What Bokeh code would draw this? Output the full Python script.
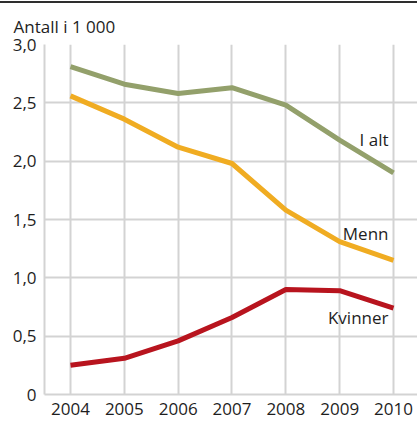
from bokeh.plotting import figure
from bokeh.models import Range1d, FixedTicker, ColumnDataSource, Div
from bokeh.layouts import column
from bokeh.core.properties import value
from bokeh.embed import file_html
from bokeh.resources import INLINE

years = [2004, 2005, 2006, 2007, 2008, 2009, 2010]
i_alt = [2.81, 2.66, 2.58, 2.63, 2.48, 2.18, 1.90]
menn = [2.56, 2.36, 2.12, 1.98, 1.58, 1.31, 1.15]
kvinner = [0.25, 0.31, 0.46, 0.66, 0.90, 0.89, 0.74]

series_names = ["I alt", "Menn", "Kvinner"]
series_colors = ["#93a06b", "#f0ac22", "#b8141e"]
label_offsets = [-33, -27, 9]

y_ticks = [0, 0.5, 1.0, 1.5, 2.0, 2.5, 3.0]
y_tick_labels = ["0", "0,5", "1,0", "1,5", "2,0", "2,5", "3,0"]
x_tick_labels = [str(y) for y in years]
title_text = "Antall i 1 000"

FONT = "Open Sans"
TXT = "#1e1e1e"
GRID = "#d3d3d3"
FS = "17px"

# thin dark rule across the top
bar = Div(width=417, height=2, margin=(1, 0, 0, 0),
          styles={"background-color": "#2e2e2e"})

x0, x1 = 2003.517, 2010.446
p = figure(width=417, height=419, output_backend="svg", toolbar_location=None,
           x_range=Range1d(x0, x1), y_range=Range1d(0, 3.0))
p.min_border_left = 44
p.min_border_right = 0
p.min_border_bottom = 28
p.min_border_top = 41
p.outline_line_color = None
p.background_fill_color = "white"
p.border_fill_color = "white"

p.title.text = title_text
p.title.align = "left"
p.title.offset = -31
p.title.text_font = FONT
p.title.text_font_size = FS
p.title.text_font_style = "normal"
p.title.text_color = TXT
p.title.standoff = 13

p.xaxis.ticker = FixedTicker(ticks=years)
p.xaxis.major_label_overrides = {y: l for y, l in zip(years, x_tick_labels)}
p.yaxis.ticker = FixedTicker(ticks=y_ticks)
p.yaxis.major_label_overrides = {t: l for t, l in zip(y_ticks, y_tick_labels)}
for ax in (p.xaxis, p.yaxis):
    ax.axis_line_color = GRID
    ax.axis_line_width = 2
    ax.major_tick_line_color = None
    ax.minor_tick_line_color = None
    ax.major_tick_out = 0
    ax.major_tick_in = 0
    ax.major_label_text_font = FONT
    ax.major_label_text_font_size = FS
    ax.major_label_text_color = TXT
p.xaxis.major_label_standoff = 8
p.yaxis.major_label_standoff = 8

p.xgrid.grid_line_color = GRID
p.ygrid.grid_line_color = GRID
p.xgrid.grid_line_width = 2
p.ygrid.grid_line_width = 2

for name, vals, col, off in zip(series_names, [i_alt, menn, kvinner], series_colors, label_offsets):
    src = ColumnDataSource(dict(x=years, y=vals))
    p.line("x", "y", source=src, line_color=col, line_width=5)
    lsrc = ColumnDataSource(dict(x=[years[-1]], y=[vals[-1]], t=[name]))
    p.text("x", "y", text="t", source=lsrc, x_offset=-5, y_offset=off,
           text_align="right", text_baseline="middle",
           text_font=value(FONT), text_font_size=FS, text_color=TXT)

layout = column(bar, p, spacing=0)
open("out.html", "w").write(file_html(layout, INLINE))
